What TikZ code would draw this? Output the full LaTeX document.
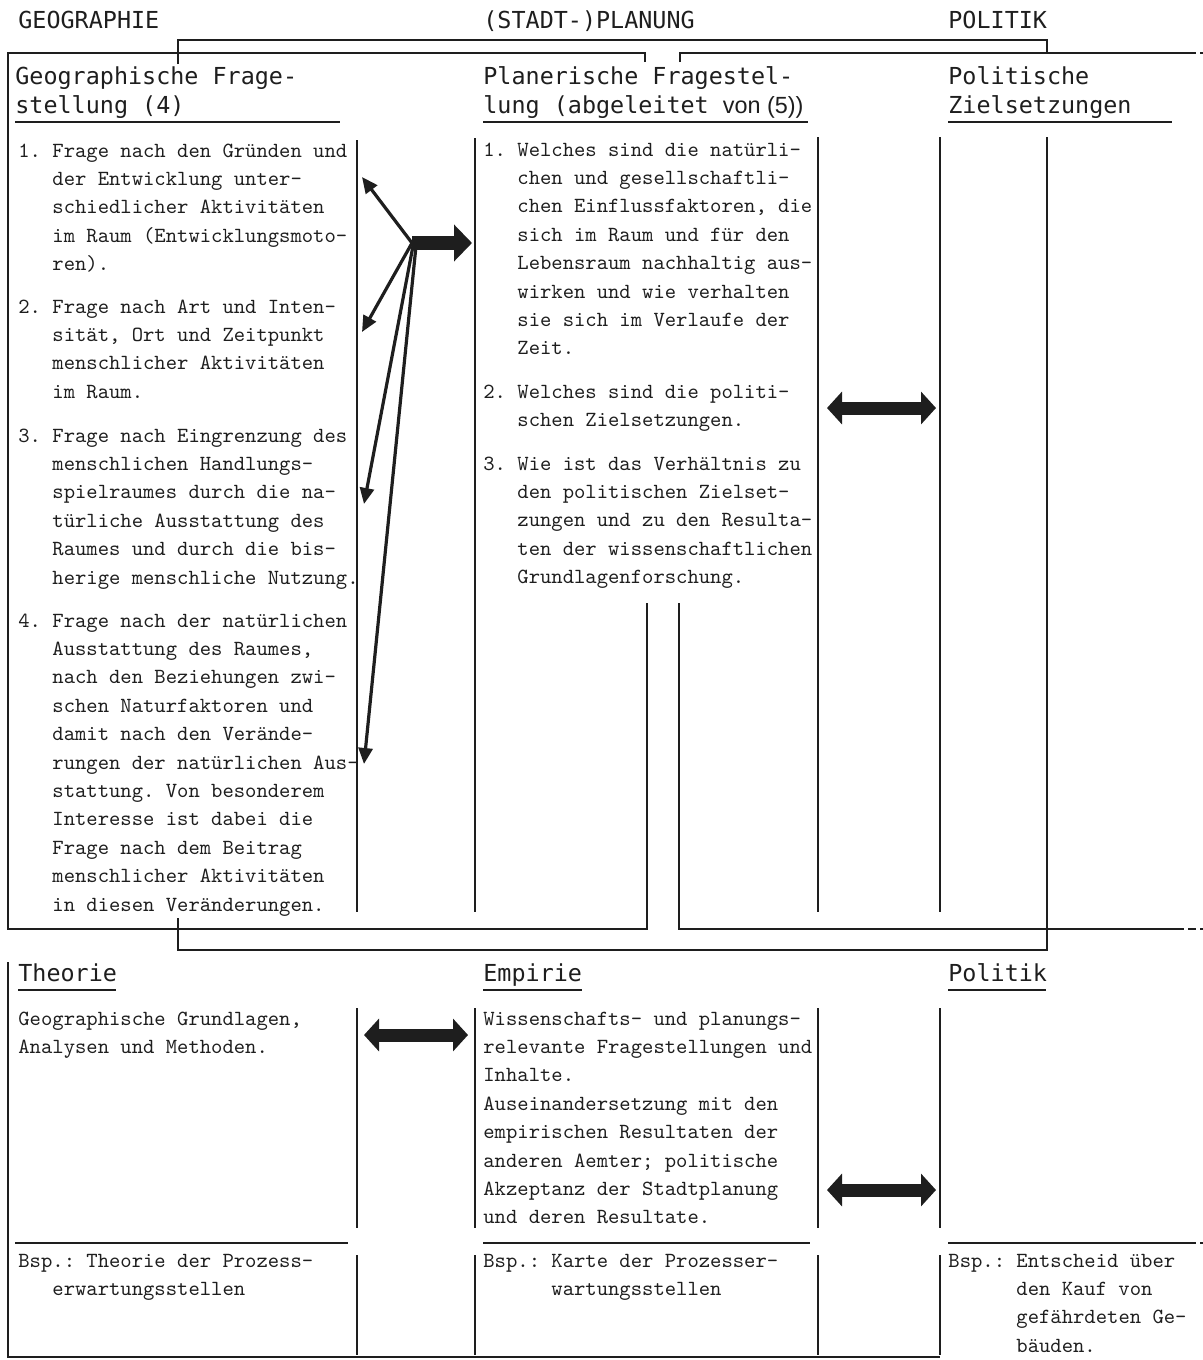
\documentclass[tikz,border=0pt]{standalone}
\usepackage{fontspec}
\usepackage{tikz}
\usetikzlibrary{arrows.meta,positioning,calc}
\newfontfamily\headfont{DejaVu Sans Mono}
\newfontfamily\propfont{Liberation Sans}
\frenchspacing
\definecolor{ink}{HTML}{1E1E1E}
\tikzset{
  frame/.style={draw=ink, line width=1.25pt},
  rule/.style={draw=ink, line width=0.6pt},
  tail/.style={draw=ink, line width=1.25pt, dash pattern=on 4pt off 2pt},
  head/.style={anchor=base west, inner sep=0pt, align=left, text=ink, font=\headfont\fontsize{11.7}{14.5}\selectfont},
  body/.style={anchor=base west, inner sep=0pt, align=left, text=ink, font=\ttfamily\fontsize{10.8}{14.2}\selectfont},
  fatarrow/.style={draw=ink, line width=7pt, -{Triangle[length=9pt,width=18pt]}},
  fatboth/.style={draw=ink, line width=6.5pt, {Triangle[length=7.5pt,width=16pt]}-{Triangle[length=7.5pt,width=16pt]}},
  thinarrow/.style={draw=ink, line width=1.6pt, -{Triangle[length=8pt,width=7pt]}}
}
\begin{document}
\begin{tikzpicture}[x=0.5pt, y=-0.5pt]
  \useasboundingbox (0,0) rectangle (1203,1360);

  % column titles
  \node[head] (geo) at (18,28) {GEOGRAPHIE};
  \node[head] (plan) at (483,28) {(STADT-)PLANUNG};
  \node[head] (pol) at (948,28) {POLITIK};

  % upper frame and brackets
  \draw[frame] (178,64) -- (178,40) -- (1047,40) -- (1047,53);
  \draw[frame] (645,62) -- (645,53) -- (8,53) -- (8,929) -- (647,929) -- (647,603);
  \draw[frame] (680,62) -- (680,53) -- (1188,53);
  \draw[tail] (1188,53) -- (1203,53);
  \draw[frame] (679,603) -- (679,929) -- (1176,929);
  \draw[tail] (1176,929) -- (1203,929);
  \draw[frame] (178,918) -- (178,950) -- (1047,950) -- (1047,137);

  % headings (base = last line)
  \node[head] (geoq) at (15,113) {Geographische Frage-\\stellung (4)};
  \node[head] (planq) at (483,113) {Planerische Fragestel-\\lung (abgeleitet {\propfont von (5))}};
  \node[head] (polq) at (948,113) {Politische\\Zielsetzungen};
  \draw[rule] (15,122) -- (340,122);
  \draw[rule] (483,122) -- (808,122);
  \draw[rule] (948,122) -- (1172,122);

  % column rules, upper part
  \draw[rule] (357,140) -- (357,912);
  \draw[rule] (475,138) -- (475,912);
  \draw[rule] (818,137) -- (818,912);
  \draw[rule] (940,137) -- (940,912);

  % geography questions
  \node[body] (geoa) at (18,270.6) {1. Frage nach den Gründen und\\
    \phantom{1. }der Entwicklung unter-\\
    \phantom{1. }schiedlicher Aktivitäten\\
    \phantom{1. }im Raum (Entwicklungsmoto-\\
    \phantom{1. }ren).};
  \node[body] (geob) at (18,398.2) {2. Frage nach Art und Inten-\\
    \phantom{2. }sität, Ort und Zeitpunkt\\
    \phantom{2. }menschlicher Aktivitäten\\
    \phantom{2. }im Raum.};
  \node[body] (geoc) at (18,584) {3. Frage nach Eingrenzung des\\
    \phantom{3. }menschlichen Handlungs-\\
    \phantom{3. }spielraumes durch die na-\\
    \phantom{3. }türliche Ausstattung des\\
    \phantom{3. }Raumes und durch die bis-\\
    \phantom{3. }herige menschliche Nutzung.};
  \node[body] (geod) at (18,911) {4. Frage nach der natürlichen\\
    \phantom{4. }Ausstattung des Raumes,\\
    \phantom{4. }nach den Beziehungen zwi-\\
    \phantom{4. }schen Naturfaktoren und\\
    \phantom{4. }damit nach den Verände-\\
    \phantom{4. }rungen der natürlichen Aus-\\
    \phantom{4. }stattung. Von besonderem\\
    \phantom{4. }Interesse ist dabei die\\
    \phantom{4. }Frage nach dem Beitrag\\
    \phantom{4. }menschlicher Aktivitäten\\
    \phantom{4. }in diesen Veränderungen.};

  % planning questions
  \node[body] (plana) at (483,354.8) {1. Welches sind die natürli-\\
    \phantom{1. }chen und gesellschaftli-\\
    \phantom{1. }chen Einflussfaktoren, die\\
    \phantom{1. }sich im Raum und für den\\
    \phantom{1. }Lebensraum nachhaltig aus-\\
    \phantom{1. }wirken und wie verhalten\\
    \phantom{1. }sie sich im Verlaufe der\\
    \phantom{1. }Zeit.};
  \node[body] (planb) at (483,426.4) {2. Welches sind die politi-\\
    \phantom{2. }schen Zielsetzungen.};
  \node[body] (planc) at (483,583.6) {3. Wie ist das Verhältnis zu\\
    \phantom{3. }den politischen Zielset-\\
    \phantom{3. }zungen und zu den Resulta-\\
    \phantom{3. }ten der wissenschaftlichen\\
    \phantom{3. }Grundlagenforschung.};

  % arrows, upper part
  \coordinate (hub) at (412,243);
  \coordinate (fattip) at (472,243);
  \coordinate (toa) at (362,177);
  \coordinate (tob) at (362,332);
  \coordinate (toc) at (364,504);
  \coordinate (tod) at (364,764);
  \draw[fatarrow] (hub) -- (fattip);
  \draw[thinarrow] (hub) -- (toa);
  \draw[thinarrow] (hub) -- (tob);
  \draw[thinarrow] ($(hub)+(1,3)$) -- (toc);
  \draw[thinarrow] ($(hub)+(4,3)$) -- (tod);
  \coordinate (plpa) at (827,408);
  \coordinate (plpb) at (936,408);
  \draw[fatboth] (plpa) -- (plpb);

  % lower part
  \draw[frame] (8,962) -- (8,1357) -- (940,1357);
  \node[head] (theo) at (18,981) {Theorie};
  \node[head] (emp) at (483,981) {Empirie};
  \node[head] (polb) at (948,981) {Politik};
  \draw[rule] (18,990) -- (116,990);
  \draw[rule] (483,990) -- (582,990);
  \draw[rule] (948,990) -- (1046,990);

  \draw[rule] (357,1008) -- (357,1228);
  \draw[rule] (475,1008) -- (475,1228);
  \draw[rule] (818,1008) -- (818,1228);
  \draw[rule] (940,1008) -- (940,1228);

  \node[body] (theot) at (18,1053.4) {Geographische Grundlagen,\\Analysen und Methoden.};
  \node[body] (empt) at (483,1223.8) {Wissenschafts- und planungs-\\
    relevante Fragestellungen und\\
    Inhalte.\\
    Auseinandersetzung mit den\\
    empirischen Resultaten der\\
    anderen Aemter; politische\\
    Akzeptanz der Stadtplanung\\
    und deren Resultate.};

  \coordinate (tea) at (364,1035);
  \coordinate (teb) at (468,1035);
  \draw[fatboth] (tea) -- (teb);
  \coordinate (epa) at (827,1190);
  \coordinate (epb) at (936,1190);
  \draw[fatboth] (epa) -- (epb);

  \draw[rule] (15,1243) -- (348,1243);
  \draw[rule] (483,1243) -- (810,1243);
  \draw[rule] (948,1243) -- (1188,1243);
  \draw[tail] (1188,1243) -- (1203,1243);

  \draw[rule] (357,1255) -- (357,1355);
  \draw[rule] (475,1255) -- (475,1355);
  \draw[rule] (818,1255) -- (818,1355);
  \draw[rule] (940,1255) -- (940,1355);

  \node[body] (theob) at (18,1295.4) {Bsp.: Theorie der Prozess-\\
    \phantom{Bsp}erwartungsstellen};
  \node[body] (empb) at (483,1295.4) {Bsp.: Karte der Prozesser-\\
    \phantom{Bsp.: }wartungsstellen};
  \node[body] (polbsp) at (948,1352.2) {Bsp.: Entscheid über\\
    \phantom{Bsp.: }den Kauf von\\
    \phantom{Bsp.: }gefährdeten Ge-\\
    \phantom{Bsp.: }bäuden.};
\end{tikzpicture}
\end{document}
